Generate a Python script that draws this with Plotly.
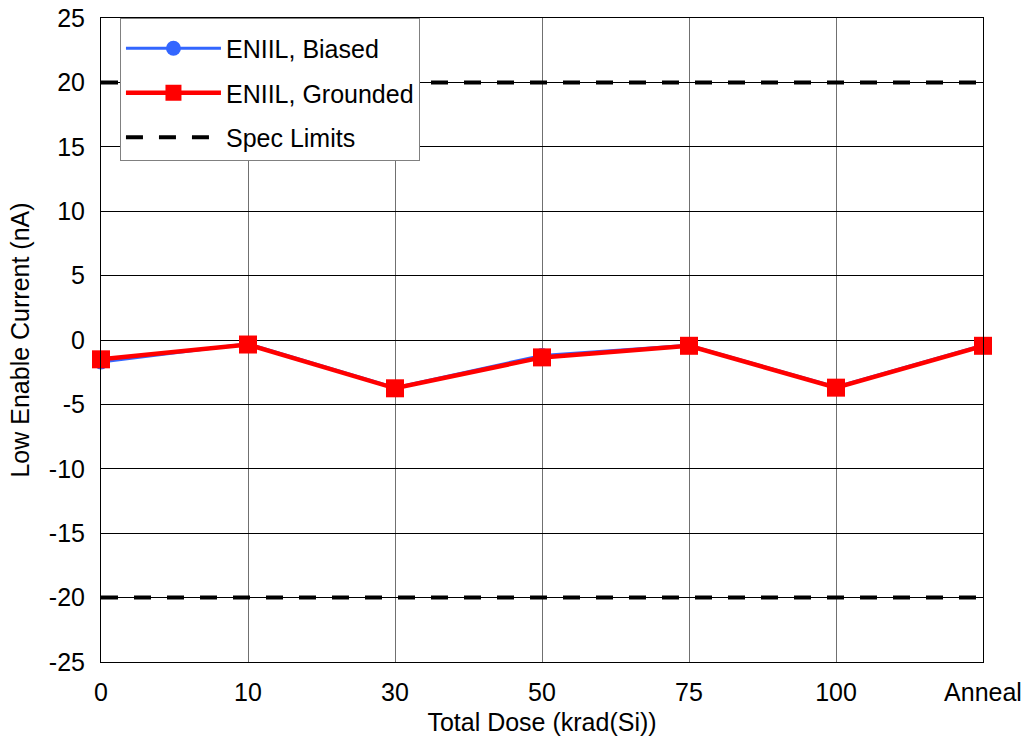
import plotly.graph_objects as go

categories = ["0", "10", "30", "50", "75", "100", "Anneal"]
biased = [-1.7, -0.3, -3.7, -1.2, -0.4, -3.65, -0.4]
grounded = [-1.5, -0.35, -3.75, -1.35, -0.45, -3.7, -0.45]
spec_upper = 20
spec_lower = -20
y_ticks = [-25, -20, -15, -10, -5, 0, 5, 10, 15, 20, 25]
y_tick_labels = ["-25", "-20", "-15", "-10", "-5", "0", "5", "10", "15", "20", "25"]

xpos = list(range(len(categories)))

fig = go.Figure()
fig.add_trace(go.Scatter(
    x=xpos, y=biased, mode="lines+markers", name="ENIIL, Biased",
    line=dict(color="#3366FF", width=3),
    marker=dict(symbol="circle", size=15, color="#3366FF"),
    legendgroup="a", cliponaxis=False,
))
fig.add_trace(go.Scatter(
    x=xpos, y=grounded, mode="lines+markers", name="ENIIL, Grounded",
    line=dict(color="#FF0000", width=4.5),
    marker=dict(symbol="square", size=18, color="#FF0000"),
    legendgroup="b", cliponaxis=False,
))
spec_x = [xpos[0], xpos[-1], None, xpos[0], xpos[-1]]
spec_y = [spec_upper, spec_upper, None, spec_lower, spec_lower]
fig.add_trace(go.Scatter(
    x=spec_x, y=spec_y, mode="lines", name="Spec Limits",
    line=dict(color="black", width=4, dash="17px,16px"),
    legendgroup="c",
))

fig.update_layout(
    width=1026, height=744,
    margin=dict(l=101, r=43, t=18, b=82, autoexpand=False),
    paper_bgcolor="white", plot_bgcolor="white",
    font=dict(family="Liberation Sans, Arial, sans-serif", size=25, color="black"),
    showlegend=True,
    legend=dict(
        x=0.0215, y=1.0, xanchor="left", yanchor="top",
        bgcolor="white", bordercolor="#808080", borderwidth=1,
        font=dict(size=25), traceorder="grouped", tracegroupgap=9,
        itemwidth=95,
        title=dict(text=" ", font=dict(size=5)),
    ),
    xaxis=dict(
        range=[0, 6], tickmode="array", tickvals=xpos, ticktext=categories,
        showgrid=True, gridcolor="#707070", gridwidth=1,
        showline=True, linecolor="black", linewidth=1, mirror=True,
        zeroline=False, ticks="", ticklen=0, automargin=False,
        ticklabelstandoff=8,
        title=dict(text="Total Dose (krad(Si))", font=dict(size=25), standoff=8),
        tickfont=dict(size=25),
    ),
    yaxis=dict(
        range=[-25, 25], tickmode="array", tickvals=y_ticks, ticktext=y_tick_labels,
        showgrid=True, gridcolor="black", gridwidth=1,
        showline=True, linecolor="black", linewidth=1, mirror=True,
        zeroline=False, ticks="", ticklen=0, automargin=False,
        ticklabelstandoff=10,
        title=dict(text="Low Enable Current (nA)", font=dict(size=25), standoff=12),
        tickfont=dict(size=25),
    ),
)

fig.write_html("out.html", config={"displayModeBar": False},
               post_script="document.body.style.margin='0';")
